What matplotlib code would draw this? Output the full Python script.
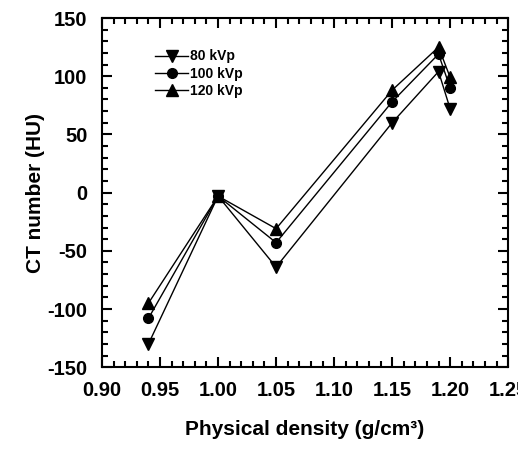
import matplotlib
matplotlib.use("Agg")
import matplotlib.pyplot as plt
from matplotlib.ticker import MultipleLocator

plt.rcParams["font.family"] = ["Liberation Sans", "DejaVu Sans"]
plt.rcParams["font.weight"] = "bold"
plt.rcParams["axes.unicode_minus"] = False

# ------------------------------------------------------------------ #
#  Data                                       #
# ------------------------------------------------------------------ #

density = [0.94, 1.00, 1.05, 1.15, 1.19, 1.20]
ct_80kvp = [-130, -3, -64, 60, 104, 72]
ct_100kvp = [-108, -3, -43, 78, 119, 90]
ct_120kvp = [-95, -3, -31, 88, 125, 99]

series = [
    ("80 kVp", ct_80kvp, "v", 8),
    ("100 kVp", ct_100kvp, "o", 7),
    ("120 kVp", ct_120kvp, "^", 8),
]

fig = plt.figure(figsize=(5.18, 4.5), dpi=100)
ax = fig.add_axes([0.197, 0.184, 0.784, 0.776])

for label, values, marker, ms in series:
    ax.plot(density, values, color="black", lw=1.0, marker=marker,
            markersize=ms, label=label)

ax.set_xlim(0.90, 1.25)
ax.set_ylim(-150, 150)
ax.xaxis.set_major_locator(MultipleLocator(0.05))
ax.xaxis.set_minor_locator(MultipleLocator(0.01))
ax.yaxis.set_major_locator(MultipleLocator(50))
ax.yaxis.set_minor_locator(MultipleLocator(10))
ax.xaxis.set_major_formatter(lambda v, p: f"{v:.2f}")

ax.tick_params(which="both", direction="in", top=True, right=True, width=1.5)
ax.tick_params(which="major", length=7, labelsize=14.5)
ax.tick_params(axis="x", which="major", pad=10)
ax.tick_params(axis="y", which="major", pad=10.5)
ax.tick_params(which="minor", length=4)
for s in ax.spines.values():
    s.set_linewidth(1.5)

ax.set_xlabel("Physical density (g/cm\u00b3)", fontsize=15, fontweight="bold", labelpad=14)
ax.set_ylabel("CT number (HU)", fontsize=15, fontweight="bold", labelpad=2)

ax.legend(loc="upper left", bbox_to_anchor=(0.113, 0.93), frameon=False,
          prop={"weight": "bold", "size": 10}, handlelength=2.4,
          handletextpad=0.15, labelspacing=0.25, borderpad=0)

fig.savefig("out.png", dpi=100)
